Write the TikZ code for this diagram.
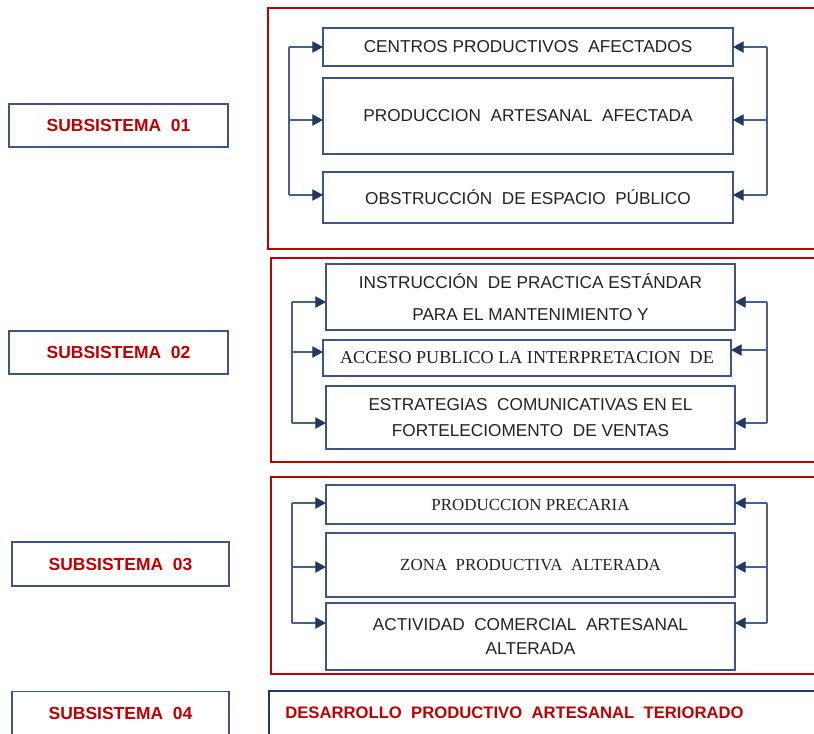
\documentclass[tikz,border=0pt]{standalone}
\usepackage{fontspec}
\setmainfont{Liberation Sans}
\newfontfamily\seriffont{Liberation Serif}
\usetikzlibrary{arrows.meta}
\definecolor{frred}{HTML}{C00000}
\definecolor{boxblue}{HTML}{3E5585}
\definecolor{busblue}{HTML}{4A6090}
\definecolor{arrblue}{HTML}{1F3864}
\definecolor{txtred}{HTML}{C00000}
\definecolor{txtgray}{HTML}{222222}
\tikzset{
  frame/.style={draw=frred, line width=1.9pt},
  bframe/.style={draw=arrblue, line width=1.6pt},
  subbox/.style={draw=boxblue, line width=0.9pt, inner sep=0pt, outer sep=0pt,
    text=txtred, font=\fontsize{13.1}{15}\selectfont\bfseries},
  pbox/.style={draw=boxblue, line width=0.9pt, inner sep=0pt, outer sep=0pt,
    text=txtgray, align=center, font=\fontsize{12.9}{23.5}\selectfont},
  bus/.style={draw=busblue, line width=0.9pt},
  arr/.style={bus, -{Triangle[length=8pt,width=8.5pt,fill=arrblue,color=arrblue]}},
}
\begin{document}
\begin{tikzpicture}[x=0.75pt,y=-0.75pt]
\useasboundingbox (0,0) rectangle (814,733);
\begin{scope}
\clip (0,0) rectangle (814,733);
\fill[white] (0,0) rectangle (814,733);
% subsystem labels
\node[subbox, minimum width=164.25pt, minimum height=32.25pt] (s1) at (118.5,125.5) {SUBSISTEMA\ \ 01};
\node[subbox, minimum width=164.25pt, minimum height=32.25pt] (s2) at (118.5,352.5) {SUBSISTEMA\ \ 02};
\node[subbox, minimum width=162.75pt, minimum height=33pt] (s3) at (120.5,564) {SUBSISTEMA\ \ 03};
\node[subbox, minimum width=162.75pt, minimum height=33pt] (s4) at (120.5,713.5) {SUBSISTEMA\ \ 04};
% frames
\draw[frame] (268,8) rectangle (840,249);
\draw[frame] (271,258) rectangle (840,462);
\draw[frame] (271,477) rectangle (840,674);
\draw[bframe] (269,691) rectangle (840,760);
\node[anchor=west, inner sep=0pt, text=txtred, font=\fontsize{12.5}{15}\selectfont\bfseries] (d4) at (285,713) {DESARROLLO\ \ PRODUCTIVO\ \ ARTESANAL\ \ TERIORADO};
% subsystem 1 boxes
\node[pbox, minimum width=307.5pt, minimum height=28.5pt] (a) at (528,47) {CENTROS PRODUCTIVOS\ \ AFECTADOS};
\node[pbox, minimum width=307.5pt, minimum height=57pt] (b) at (528,116) {PRODUCCION\ \ ARTESANAL\ \ AFECTADA};
\node[pbox, minimum width=307.5pt, minimum height=38.25pt] (c) at (528,197.5) {OBSTRUCCIÓN\ \ DE ESPACIO\ \ PÚBLICO};
% subsystem 2 boxes
\node[pbox, minimum width=306.75pt, minimum height=49.5pt] (d) at (530.5,297) {INSTRUCCIÓN\ \ DE PRACTICA ESTÁNDAR\\PARA EL MANTENIMIENTO Y};
\node[pbox, minimum width=306pt, minimum height=27pt, font=\fontsize{13.6}{15}\seriffont] (e) at (527,358) {ACCESO PUBLICO LA INTERPRETACION\ \ DE};
\node[pbox, minimum width=306.75pt, minimum height=47.25pt, font=\fontsize{12.9}{19.5}\selectfont] (f) at (530.5,417.5) {ESTRATEGIAS\ \ COMUNICATIVAS EN EL\\FORTELECIOMENTO\ \ DE VENTAS};
% subsystem 3 boxes
\node[pbox, minimum width=306.75pt, minimum height=29.25pt, font=\fontsize{12.7}{15}\seriffont] (g) at (530.5,504.5) {PRODUCCION PRECARIA};
\node[pbox, minimum width=306.75pt, minimum height=48pt, font=\fontsize{12.7}{15}\seriffont] (h) at (530.5,565) {ZONA\ \ PRODUCTIVA\ \ ALTERADA};
\node[pbox, minimum width=306.75pt, minimum height=50.25pt, font=\fontsize{12.9}{18}\selectfont] (i) at (530.5,636.5) {ACTIVIDAD\ \ COMERCIAL\ \ ARTESANAL\\ALTERADA};
% buses subsystem 1
\coordinate (l1a) at (289,47); \coordinate (l1b) at (289,120); \coordinate (l1c) at (289,195);
\coordinate (r1a) at (767,47); \coordinate (r1b) at (767,120); \coordinate (r1c) at (767,195);
\draw[bus] (l1a) -- (l1c); \draw[bus] (r1a) -- (r1c);
\draw[arr] (l1a) -- (l1a -| a.west); \draw[arr] (l1b) -- (l1b -| b.west); \draw[arr] (l1c) -- (l1c -| c.west);
\draw[arr] (r1a) -- (r1a -| a.east); \draw[arr] (r1b) -- (r1b -| b.east); \draw[arr] (r1c) -- (r1c -| c.east);
% buses subsystem 2
\coordinate (l2a) at (292,302); \coordinate (l2b) at (292,352); \coordinate (l2c) at (292,423);
\coordinate (r2a) at (767,302); \coordinate (r2b) at (767,350); \coordinate (r2c) at (767,423);
\draw[bus] (l2a) -- (l2c); \draw[bus] (r2a) -- (r2c);
\draw[arr] (l2a) -- (l2a -| d.west); \draw[arr] (l2b) -- (l2b -| e.west); \draw[arr] (l2c) -- (l2c -| f.west);
\draw[arr] (r2a) -- (r2a -| d.east); \draw[arr] (r2b) -- (r2b -| e.east); \draw[arr] (r2c) -- (r2c -| f.east);
% buses subsystem 3
\coordinate (l3a) at (292,503); \coordinate (l3b) at (292,567); \coordinate (l3c) at (292,623);
\coordinate (r3a) at (767,503); \coordinate (r3b) at (767,567); \coordinate (r3c) at (767,623);
\draw[bus] (l3a) -- (l3c); \draw[bus] (r3a) -- (r3c);
\draw[arr] (l3a) -- (l3a -| g.west); \draw[arr] (l3b) -- (l3b -| h.west); \draw[arr] (l3c) -- (l3c -| i.west);
\draw[arr] (r3a) -- (r3a -| g.east); \draw[arr] (r3b) -- (r3b -| h.east); \draw[arr] (r3c) -- (r3c -| i.east);
\end{scope}
\end{tikzpicture}
\end{document}
